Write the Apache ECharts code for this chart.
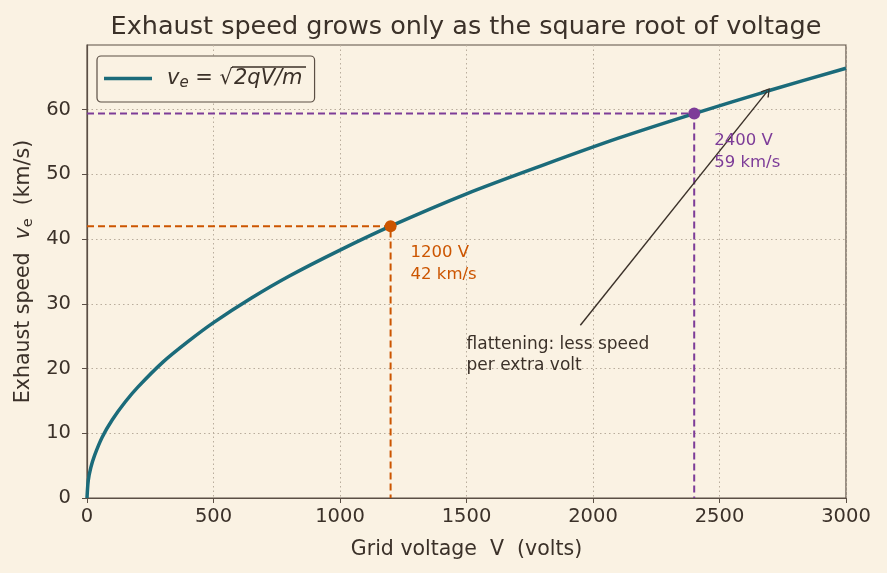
<!DOCTYPE html>
<html>
<head>
<meta charset="utf-8">
<script src="https://cdn.jsdelivr.net/npm/echarts@6/dist/echarts.min.js"></script>
<style>
  html, body { margin: 0; padding: 0; background: #faf2e3; }
  #chart { width: 887px; height: 573px; }
</style>
</head>
<body>
<div id="chart"></div>
<script>
// voltage (V) and exhaust speed (km/s)
const voltage = [0, 5, 15, 30, 60, 100, 150, 200, 300, 400, 500, 650, 800, 1000, 1200, 1500, 1800, 2100, 2400, 2700, 3000];
const speed = [0, 2.7, 4.7, 6.6, 9.4, 12.1, 14.8, 17.1, 21.0, 24.2, 27.1, 30.9, 34.3, 38.3, 42.0, 47.0, 51.4, 55.6, 59.4, 63.0, 66.4];

const marked = [[1200, 42.0], [2400, 59.4]];
const markedLabels = [['1200 V', '42 km/s'], ['2400 V', '59 km/s']];
const xTicks = [0, 500, 1000, 1500, 2000, 2500, 3000];
const yTicks = [0, 10, 20, 30, 40, 50, 60];

const ink = '#3b3129';
const frame = '#5b4f45';
const teal = '#1b6b7a';
const orange = '#cc5500';
const purple = '#7d3c98';
const font = 'DejaVu Sans';

const curve = voltage.map((v, i) => [v, speed[i]]);
const guide = (p, color) => ({
  type: 'line',
  data: [[0, p[1]], [p[0], p[1]], [p[0], 0]],
  symbol: 'none',
  silent: true,
  lineStyle: { color: color, width: 2, type: [7, 4] },
  z: 3
});
const dot = (p, color, lbl) => ({
  type: 'scatter',
  data: [p],
  symbolSize: 12,
  silent: true,
  itemStyle: { color: color, opacity: 1 },
  label: {
    show: true,
    position: 'right',
    formatter: lbl.join('\n'),
    color: color,
    fontFamily: font,
    fontSize: 16.5,
    lineHeight: 22,
    align: 'left',
    verticalAlign: 'top',
    offset: [9, 16]
  },
  z: 5
});
const dotted = { show: true, lineStyle: { color: '#b9ad9c', type: [1.5, 3], width: 1 } };

const chart = echarts.init(document.getElementById('chart'));
chart.setOption({
  backgroundColor: '#faf2e3',
  animation: false,
  title: {
    text: 'Exhaust speed grows only as the square root of voltage',
    left: 461, top: 9, textAlign: 'center',
    textStyle: { fontFamily: font, fontSize: 25.5, fontWeight: 'normal', color: ink }
  },
  grid: {
    left: 87, right: 41, top: 45, bottom: 75, outerBoundsMode: 'none',
    show: true, borderColor: frame, borderWidth: 1.2
  },
  legend: {
    left: 97, top: 56,
    padding: [12, 12, 11, 7],
    backgroundColor: '#faf2e3',
    borderColor: frame, borderWidth: 1.2, borderRadius: 4,
    itemWidth: 48, itemHeight: 24,
    data: [{ name: 'curve', icon: 'path://M0,0 L48,0 L48,3.5 L0,3.5 Z' }],
    formatter: () => '{i|v}{s|e}{t| = √}{m|2qV/m}',
    textStyle: {
      fontFamily: font, fontSize: 21, color: ink,
      rich: {
        i: { fontFamily: font, fontSize: 21, fontStyle: 'italic', color: ink, padding: [0, 0, 0, 10] },
        s: { fontFamily: font, fontSize: 15, fontStyle: 'italic', color: ink, verticalAlign: 'bottom', padding: [10, 0, 0, 0] },
        t: { fontFamily: font, fontSize: 21, color: ink },
        m: { fontFamily: font, fontSize: 21, fontStyle: 'italic', color: ink, padding: [0, 4, 0, 1] }
      }
    }
  },
  graphic: [{
    type: 'line', z: 100,
    shape: { x1: 232, y1: 67, x2: 306, y2: 67 },
    style: { stroke: ink, lineWidth: 1.3 }
  }],
  xAxis: {
    type: 'value', min: 0, max: 3000, interval: 500,
    name: 'Grid voltage  V  (volts)', nameLocation: 'middle', nameGap: 41,
    nameTextStyle: { fontFamily: font, fontSize: 20.5, color: ink },
    axisLine: { lineStyle: { color: frame, width: 1.2 } },
    axisTick: { show: true, length: 5, lineStyle: { color: frame }, customValues: xTicks },
    axisLabel: { fontFamily: font, fontSize: 19.5, color: ink, margin: 9, customValues: xTicks,
      formatter: v => String(v) },
    splitLine: dotted
  },
  yAxis: {
    type: 'value', min: 0, max: 70, interval: 10,
    name: 'Exhaust speed  {v|v}{s|e}  (km/s)', nameLocation: 'middle', nameGap: 51,
    nameTextStyle: { fontFamily: font, fontSize: 20.5, color: ink,
      rich: {
        v: { fontFamily: font, fontSize: 20.5, fontStyle: 'italic', color: ink },
        s: { fontFamily: font, fontSize: 14.5, color: ink, verticalAlign: 'bottom', padding: [8, 0, 0, 0] }
      } },
    axisLine: { show: true, lineStyle: { color: frame, width: 1.2 } },
    axisTick: { show: true, length: 5, lineStyle: { color: frame }, customValues: yTicks },
    axisLabel: { fontFamily: font, fontSize: 19.5, color: ink, margin: 16, customValues: yTicks,
      formatter: v => String(v) },
    splitLine: dotted
  },
  series: [
    guide(marked[0], orange),
    guide(marked[1], purple),
    {
      name: 'curve',
      type: 'line',
      data: curve,
      smooth: 0.3,
      symbol: 'none',
      lineStyle: { color: teal, width: 3.5 },
      itemStyle: { color: teal },
      z: 4,
      markLine: {
        silent: true,
        symbol: ['none', 'path://M5,0 L10,8 L9,9 L5,2.2 L1,9 L0,8 Z'],
        symbolSize: [10, 9],
        label: { show: false },
        lineStyle: { color: ink, width: 1.4, type: 'solid' },
        itemStyle: { color: ink },
        data: [[{ coord: [1950, 26.7] }, { coord: [2688, 62.8] }]]
      }
    },
    dot(marked[0], orange, markedLabels[0]),
    dot(marked[1], purple, markedLabels[1]),
    {
      type: 'scatter',
      data: [[1500, 25.4]],
      symbolSize: 0,
      silent: true,
      itemStyle: { opacity: 1 },
      label: {
        show: true, position: 'inside', align: 'left', verticalAlign: 'top',
        formatter: 'flattening: less speed\nper extra volt',
        fontFamily: font, fontSize: 17, lineHeight: 21, color: ink
      }
    }
  ]
});
</script>
</body>
</html>
